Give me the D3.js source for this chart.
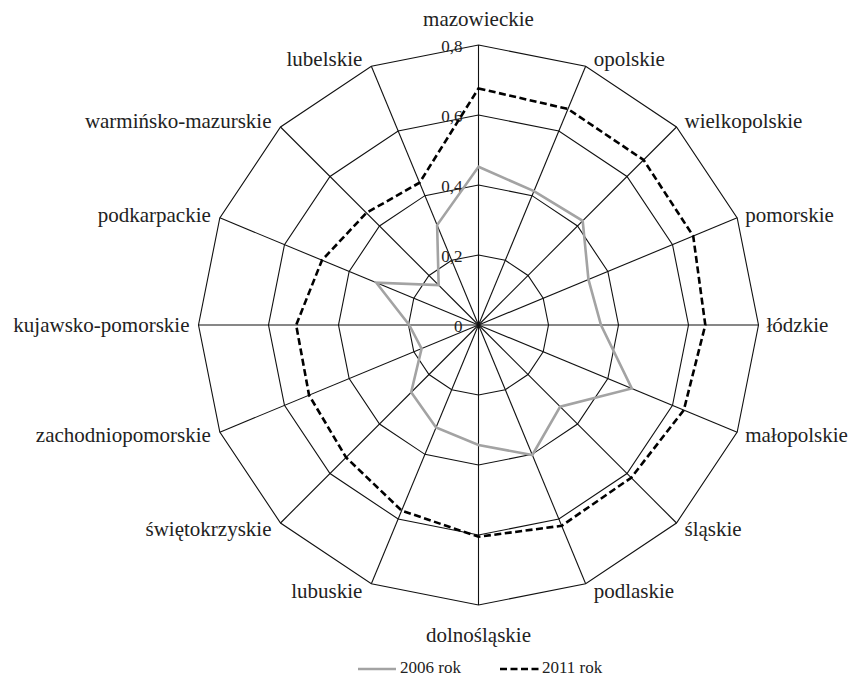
<!DOCTYPE html>
<html>
<head>
<meta charset="utf-8">
<script src="https://cdn.jsdelivr.net/npm/d3@7"></script>
<style>
  html, body { margin: 0; padding: 0; background: #fff; }
  svg { display: block; }
  text { font-family: "Liberation Serif", "Times New Roman", serif; fill: #222; }
</style>
</head>
<body>
<svg id="chart" width="850" height="677"></svg>
<script>
const categories = ["mazowieckie", "opolskie", "wielkopolskie", "pomorskie", "łódzkie", "małopolskie", "śląskie", "podlaskie", "dolnośląskie", "lubuskie", "świętokrzyskie", "zachodniopomorskie", "kujawsko-pomorskie", "podkarpackie", "warmińsko-mazurskie", "lubelskie"];
const values2006 = [0.452, 0.414, 0.421, 0.340, 0.350, 0.474, 0.330, 0.402, 0.343, 0.317, 0.272, 0.176, 0.198, 0.316, 0.161, 0.309];
const values2011 = [0.676, 0.668, 0.667, 0.664, 0.648, 0.635, 0.617, 0.621, 0.605, 0.574, 0.535, 0.524, 0.521, 0.484, 0.453, 0.440];
const tickValues = [0, 0.2, 0.4, 0.6, 0.8];
const tickLabels = ["0", "0,2", "0,4", "0,6", "0,8"];
const seriesNames = ["2006 rok", "2011 rok"];

const svg = d3.select("#chart");
const cx = 478.5, cy = 325, R = 280;
const r = d3.scaleLinear().domain([0, 0.8]).range([0, R]);
const n = categories.length;
const angle = d3.scaleLinear().domain([0, n]).range([0, 2 * Math.PI]);
const px = (i, v) => cx + r(v) * Math.sin(angle(i));
const py = (i, v) => cy - r(v) * Math.cos(angle(i));

const g = svg.append("g");

// rings
tickValues.filter(t => t > 0).forEach(t => {
  const pts = d3.range(n).map(i => [px(i, t), py(i, t)]);
  g.append("path")
    .attr("d", d3.line()(pts) + "Z")
    .attr("fill", "none").attr("stroke", "#111").attr("stroke-width", 1.1);
});
// spokes
d3.range(n).forEach(i => {
  g.append("line")
    .attr("x1", cx).attr("y1", cy)
    .attr("x2", px(i, 0.8)).attr("y2", py(i, 0.8))
    .attr("stroke", "#111").attr("stroke-width", 1.1);
});

// tick labels
tickValues.forEach((t, k) => {
  g.append("text")
    .attr("x", cx - 16).attr("y", cy - r(t) + 1)
    .attr("text-anchor", "end").attr("dominant-baseline", "central")
    .attr("font-size", 17).text(tickLabels[k]);
});

// series
const radial = (vals) => d3.line()(vals.map((v, i) => [px(i, v), py(i, v)])) + "Z";
g.append("path").attr("d", radial(values2006))
  .attr("fill", "none").attr("stroke", "#a3a3a3").attr("stroke-width", 2.6)
  .attr("stroke-linejoin", "miter");
g.append("path").attr("d", radial(values2011))
  .attr("fill", "none").attr("stroke", "#000").attr("stroke-width", 2.6)
  .attr("stroke-dasharray", "7,3.5").attr("stroke-linejoin", "miter");

// category labels
categories.forEach((c, i) => {
  const a = angle(i);
  const s = Math.sin(a), co = Math.cos(a);
  const vx = px(i, 0.8), vy = py(i, 0.8);
  const t = g.append("text").attr("font-size", 21).text(c);
  if (Math.abs(s) < 0.01) {
    t.attr("text-anchor", "middle").attr("x", vx);
    if (co > 0) t.attr("y", vy - 19);
    else t.attr("y", vy + 36.5);
  } else {
    t.attr("text-anchor", s > 0 ? "start" : "end")
      .attr("x", vx + (s > 0 ? 8 : -9))
      .attr("y", vy + 7 - co * 8);
  }
});

// legend
const lg = svg.append("g");
lg.append("line").attr("x1", 358).attr("x2", 396).attr("y1", 669).attr("y2", 669)
  .attr("stroke", "#a3a3a3").attr("stroke-width", 2.6);
lg.append("text").attr("x", 400).attr("y", 672.5).attr("font-size", 17).text(seriesNames[0]);
lg.append("line").attr("x1", 500).attr("x2", 539).attr("y1", 669).attr("y2", 669)
  .attr("stroke", "#000").attr("stroke-width", 2.6).attr("stroke-dasharray", "7,3.5");
lg.append("text").attr("x", 542).attr("y", 672.5).attr("font-size", 17).text(seriesNames[1]);
</script>
</body>
</html>
